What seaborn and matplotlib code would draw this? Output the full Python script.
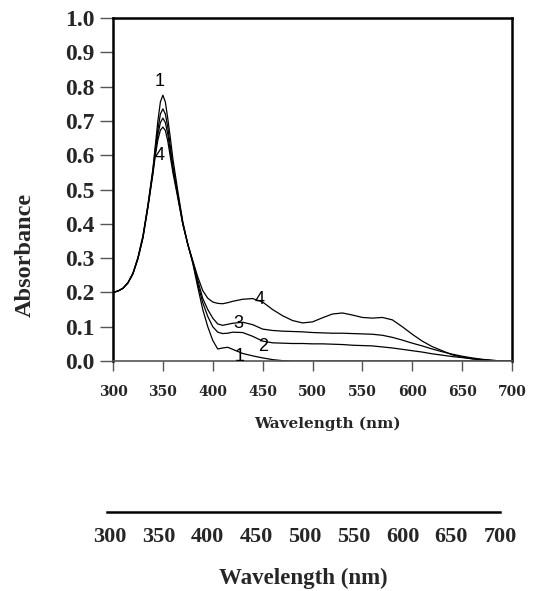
import seaborn as sns
import matplotlib.pyplot as plt
import numpy as np
import pandas as pd

# wavelength grid (nm) and absorbance of the four spectra
wavelength = [300, 305, 310, 315, 320, 325, 330, 335, 340, 342.5, 345, 347.5, 350, 352.5,
              355, 357.5, 360, 365, 370, 375, 380, 385, 390, 395, 400, 405, 410, 415, 420,
              430, 440, 450, 460, 470, 480, 490, 500, 510, 520, 530, 540, 550, 560, 570,
              580, 590, 600, 610, 620, 630, 640, 650, 660, 670, 680, 690, 700]

curve_1 = [0.200, 0.204, 0.212, 0.228, 0.256, 0.302, 0.365, 0.455, 0.560, 0.630, 0.700, 0.755,
           0.775, 0.755, 0.705, 0.650, 0.590, 0.495, 0.405, 0.340, 0.285, 0.215, 0.150,
           0.100, 0.060, 0.035, 0.038, 0.040, 0.034, 0.022, 0.015, 0.009, 0.004, 0.001,
           0.0, 0.0, 0.0, 0.0, 0.0, 0.0, 0.0, 0.0, 0.0, 0.0, 0.0, 0.0, 0.0, 0.0, 0.0, 0.0,
           0.0, 0.0, 0.0, 0.0, 0.0, 0.0, 0.0]

curve_2 = [0.200, 0.204, 0.212, 0.228, 0.255, 0.300, 0.362, 0.452, 0.555, 0.620, 0.675, 0.720,
           0.735, 0.720, 0.680, 0.625, 0.570, 0.485, 0.402, 0.340, 0.287, 0.225, 0.170,
           0.130, 0.100, 0.084, 0.080, 0.081, 0.084, 0.083, 0.072, 0.058, 0.053, 0.052,
           0.051, 0.051, 0.050, 0.050, 0.049, 0.048, 0.046, 0.045, 0.044, 0.041, 0.038,
           0.034, 0.030, 0.026, 0.021, 0.017, 0.013, 0.010, 0.007, 0.004, 0.002, 0.0, 0.0]

curve_3 = [0.200, 0.204, 0.212, 0.228, 0.255, 0.299, 0.360, 0.450, 0.550, 0.610, 0.660, 0.695,
           0.708, 0.695, 0.660, 0.610, 0.560, 0.480, 0.400, 0.340, 0.290, 0.235, 0.182,
           0.150, 0.125, 0.108, 0.104, 0.107, 0.110, 0.113, 0.106, 0.093, 0.089, 0.087,
           0.086, 0.085, 0.083, 0.082, 0.081, 0.081, 0.080, 0.079, 0.078, 0.075, 0.069,
           0.061, 0.052, 0.044, 0.035, 0.027, 0.020, 0.014, 0.009, 0.005, 0.002, 0.0, 0.0]

curve_4 = [0.200, 0.204, 0.212, 0.228, 0.254, 0.298, 0.358, 0.447, 0.545, 0.600, 0.645, 0.673,
           0.682, 0.672, 0.640, 0.595, 0.550, 0.475, 0.398, 0.340, 0.292, 0.245, 0.205,
           0.183, 0.172, 0.168, 0.167, 0.170, 0.174, 0.180, 0.182, 0.172, 0.150, 0.132,
           0.118, 0.111, 0.114, 0.126, 0.137, 0.140, 0.134, 0.127, 0.125, 0.127, 0.120,
           0.100, 0.078, 0.058, 0.042, 0.030, 0.018, 0.011, 0.006, 0.003, 0.001, 0.0, 0.0]

curve_names = ["1", "2", "3", "4"]
x_ticks = [300, 350, 400, 450, 500, 550, 600, 650, 700]
y_ticks = [0.0, 0.1, 0.2, 0.3, 0.4, 0.5, 0.6, 0.7, 0.8, 0.9, 1.0]

# curve number labels (text, wavelength, absorbance)
label_text = ["1", "4", "4", "3", "2", "1"]
label_x = [347, 347, 447, 426, 451, 427]
label_y = [0.815, 0.600, 0.178, 0.110, 0.043, 0.013]

rows = []
for name, values in zip(curve_names, [curve_1, curve_2, curve_3, curve_4]):
    for wl, a in zip(wavelength, values):
        rows.append({"wl": wl, "A": a, "curve": name})
df = pd.DataFrame(rows)

sns.set_style("ticks")
plt.rcParams['font.family'] = ['DejaVu Sans']

fig = plt.figure(figsize=(5.37, 5.91), dpi=100)
ax = fig.add_axes([113 / 537, 1 - 361 / 591, 399 / 537, 343 / 591])

sns.lineplot(data=df, x="wl", y="A", hue="curve", palette=["black"] * 4,
             linewidth=0.9, legend=False, ax=ax)

ax.set_xlim(300, 700)
ax.set_ylim(0, 1.0)
ax.set_xticks(x_ticks)
ax.set_yticks(y_ticks)
ax.set_yticklabels([f"{v:.1f}" for v in y_ticks],
                   fontfamily="Liberation Serif", fontweight="bold", fontsize=17)
ax.set_xticklabels([str(v) for v in x_ticks],
                   fontfamily="DejaVu Serif", fontweight="bold", fontsize=10)
ax.tick_params(axis="y", direction="out", length=9.5, width=1, color="#555555", pad=4)
ax.tick_params(axis="x", direction="out", length=7, width=1, color="#555555", pad=10)

for side in ["top", "left", "right"]:
    ax.spines[side].set_linewidth(1.8)
    ax.spines[side].set_color("black")
ax.spines["bottom"].set_linewidth(1.2)
ax.spines["bottom"].set_color("#555555")

ax.set_xlabel("Wavelength (nm)", fontfamily="DejaVu Serif", fontweight="bold", fontsize=11)
ax.xaxis.set_label_coords(0.5376, -0.162)
ax.set_ylabel("Absorbance", fontfamily="Liberation Serif", fontweight="bold", fontsize=17.5)
ax.yaxis.set_label_coords(-0.193, 0.31)

for t, xv, yv in zip(label_text, label_x, label_y):
    ax.text(xv, yv, t, fontfamily="Liberation Sans", fontsize=13,
            ha="center", va="center", color="black")

# second, bare wavelength scale below the plot
ax2 = fig.add_axes([107 / 537, 1 - 512 / 591, 393 / 537, 0.001])
ax2.set_xlim(297, 700)
ax2.set_xticks(x_ticks)
ax2.set_xticklabels([str(v) for v in x_ticks],
                    fontfamily="Liberation Serif", fontweight="bold", fontsize=16)
ax2.set_yticks([])
ax2.tick_params(axis="x", length=0, pad=11)
for side in ["top", "left", "right"]:
    ax2.spines[side].set_visible(False)
ax2.spines["bottom"].set_linewidth(1.8)
ax2.spines["bottom"].set_color("black")
ax2.set_xlabel("Wavelength (nm)", fontfamily="Liberation Serif", fontweight="bold",
               fontsize=16.5, labelpad=15)

fig.savefig("out.png", dpi=100)
